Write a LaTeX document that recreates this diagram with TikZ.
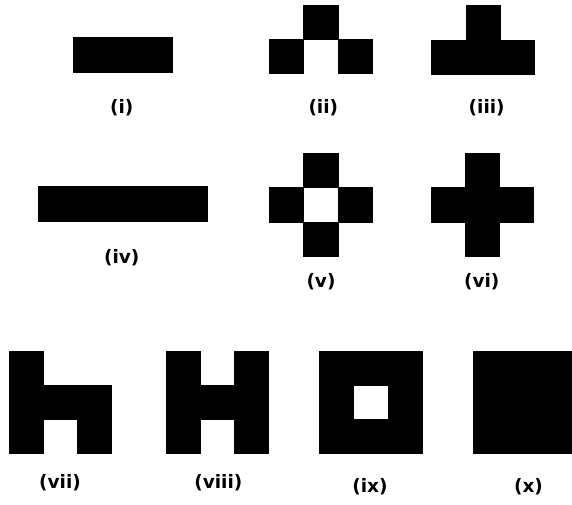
\documentclass[tikz,border=0pt]{standalone}
\usepackage{fontspec}
\setmainfont{DejaVu Sans}
\usepackage{tikz}

% one square of a pattern: x, y of the top left corner, then col/row pairs
\newcommand{\blocks}[3]{%
  \foreach \c/\r in {#3}
    \fill[cell] (#1+\c*34.2, #2+\r*34.2) rectangle ++(34.2,34.2);}

\begin{document}
\begin{tikzpicture}[
  x=1pt, y=-1pt,
  cell/.style={fill=black, draw=black, line width=0.4pt},
  lbl/.style={font=\fontsize{18.5}{22}\selectfont\bfseries, inner sep=0pt}
]
\fill[white] (0,0) rectangle (572,504);
\clip (0,0) rectangle (572,504);

% top row
\fill[cell] (73.3,37.3) rectangle (171.7,72.3);
\blocks{269.3}{4.7}{1/0, 0/1, 2/1}
\blocks{431.5}{5.5}{1/0, 0/1, 1/1, 2/1}
\node[lbl] (i)   at (121.7,108) {(i)};
\node[lbl] (ii)  at (323.3,108) {(ii)};
\node[lbl] (iii) at (486.7,108) {(iii)};

% middle row
\fill[cell] (38.3,186) rectangle (206.7,220.7);
\blocks{269.3}{153.3}{1/0, 0/1, 2/1, 1/2}
\blocks{430.7}{153.3}{1/0, 0/1, 1/1, 2/1, 1/2}
\node[lbl] (iv) at (121.7,258) {(iv)};
\node[lbl] (v)  at (321,282)   {(v)};
\node[lbl] (vi) at (481.7,282) {(vi)};

% bottom row
\blocks{9}{350.7}{0/0, 0/1, 1/1, 2/1, 0/2, 2/2}
\blocks{166}{350.7}{0/0, 2/0, 0/1, 1/1, 2/1, 0/2, 2/2}
\blocks{319.3}{350.7}{0/0, 1/0, 2/0, 0/1, 2/1, 0/2, 1/2, 2/2}
\blocks{473.3}{350.7}{0/0, 1/0, 2/0, 0/1, 1/1, 2/1, 0/2, 1/2, 2/2}
\node[lbl] (vii)  at (60,483)    {(vii)};
\node[lbl] (viii) at (218.3,483) {(viii)};
\node[lbl] (ix)   at (370,487)   {(ix)};
\node[lbl] (x)    at (528.5,487) {(x)};
\end{tikzpicture}
\end{document}
